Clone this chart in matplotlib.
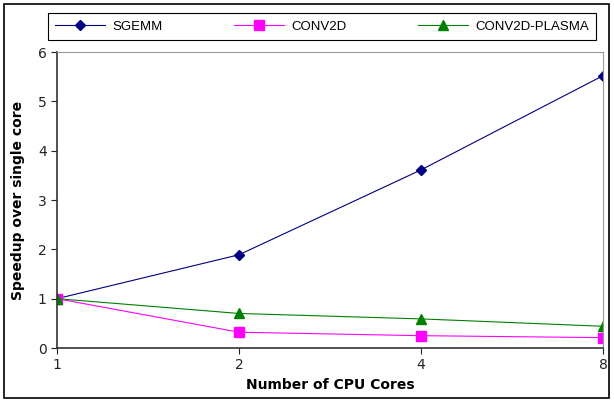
import numpy as np
import matplotlib
matplotlib.use('Agg')
import matplotlib.pyplot as plt
from matplotlib.patches import Rectangle

cores = [1, 2, 4, 8]
sgemm = [1.0, 1.89, 3.61, 5.52]
conv2d = [1.0, 0.32, 0.25, 0.21]
conv2d_plasma = [1.0, 0.70, 0.59, 0.44]

fig = plt.figure(figsize=(6.14, 4.01), dpi=100)
ax = fig.add_axes([57/614, 53/401, 546/614, 296/401])

ax.plot(cores, sgemm, color='#000080', lw=0.8, marker='D', ms=5, label='SGEMM')
ax.plot(cores, conv2d, color='#ff00ff', lw=0.8, marker='s', ms=7, label='CONV2D')
ax.plot(cores, conv2d_plasma, color='#008000', lw=0.8, marker='^', ms=7, label='CONV2D-PLASMA')

ax.set_xscale('log', base=2)
ax.set_xlim(1, 8)
ax.set_ylim(0, 6)
ax.set_xticks(cores)
ax.set_xticklabels([str(c) for c in cores])
ax.minorticks_off()
ax.set_yticks(range(7))
ax.tick_params(direction='out', length=4, labelsize=10, colors='#222222')
for s in ['top', 'right']:
    ax.spines[s].set_color('#999999')
for s in ['left', 'bottom']:
    ax.spines[s].set_color('#333333')
    ax.spines[s].set_linewidth(1.2)

ax.set_xlabel('Number of CPU Cores', fontweight='bold', fontsize=10)
ax.set_ylabel('Speedup over single core', fontweight='bold', fontsize=10, labelpad=9)

leg = fig.legend(loc='lower left', ncol=3, mode='expand',
                 bbox_to_anchor=(48/614, 1 - 40/401, 548/614, 28/401),
                 prop={'family': 'Liberation Sans', 'size': 9.5},
                 fancybox=False, edgecolor='black', framealpha=1,
                 handlelength=3.8, handletextpad=0.55,
                 borderpad=0.55, borderaxespad=0)
leg.get_frame().set_linewidth(0.8)

fig.patches.append(Rectangle((4/614, 3/401), 605/614, 394/401, transform=fig.transFigure,
                             fill=False, edgecolor='black', lw=1.2))

fig.savefig('out.png', dpi=100)
